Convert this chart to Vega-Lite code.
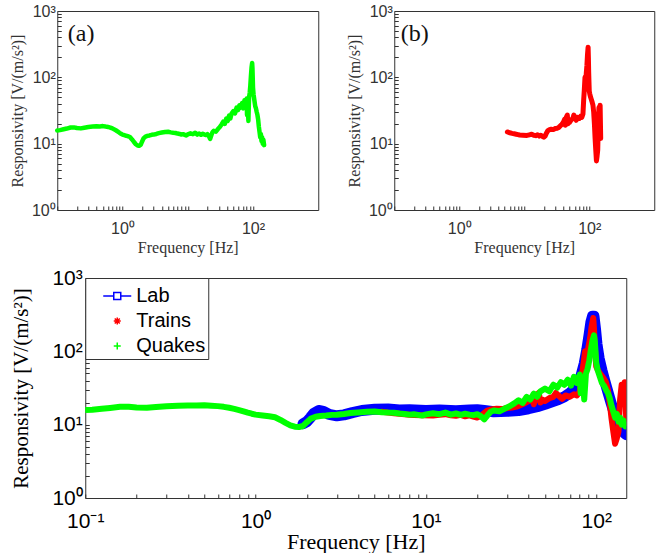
{
  "$schema": "https://vega.github.io/schema/vega-lite/v6.json",
  "padding": {"left": 8, "top": 2, "right": 5, "bottom": 0},
  "background": "white",
  "config": {
    "view": {"stroke": "#333", "strokeWidth": 1},
    "axis": {"domain": false, "grid": false, "tickColor": "#333", "tickSize": -4, "labelColor": "#333", "titleColor": "#333", "labelFont": "Liberation Sans", "titleFont": "Liberation Serif", "titleFontWeight": "normal", "labelOverlap": false, "labelFlush": false}
  },
  "resolve": {"scale": {"color": "independent", "shape": "independent"}, "legend": {"color": "independent", "shape": "independent"}},
  "data": {"values": [
    {"s":"Quakes","f":0.1,"r":15.8},{"s":"Quakes","f":0.11,"r":16.0},{"s":"Quakes","f":0.125,"r":16.5},{"s":"Quakes","f":0.14,"r":16.9},{"s":"Quakes","f":0.16,"r":17.5},{"s":"Quakes","f":0.18,"r":17.6},{"s":"Quakes","f":0.2,"r":17.2},{"s":"Quakes","f":0.23,"r":17.0},{"s":"Quakes","f":0.26,"r":17.4},{"s":"Quakes","f":0.3,"r":17.8},{"s":"Quakes","f":0.35,"r":18.1},{"s":"Quakes","f":0.4,"r":18.3},{"s":"Quakes","f":0.45,"r":18.2},{"s":"Quakes","f":0.5,"r":18.4},{"s":"Quakes","f":0.55,"r":18.1},{"s":"Quakes","f":0.6,"r":17.9},{"s":"Quakes","f":0.65,"r":17.5},{"s":"Quakes","f":0.7,"r":17.0},{"s":"Quakes","f":0.75,"r":16.4},{"s":"Quakes","f":0.8,"r":15.8},{"s":"Quakes","f":0.85,"r":15.2},{"s":"Quakes","f":0.9,"r":14.6},{"s":"Quakes","f":0.95,"r":14.1},{"s":"Quakes","f":1.0,"r":13.7},{"s":"Quakes","f":1.1,"r":13.3},{"s":"Quakes","f":1.2,"r":13.0},{"s":"Quakes","f":1.3,"r":12.6},{"s":"Quakes","f":1.4,"r":11.6},{"s":"Quakes","f":1.5,"r":10.6},{"s":"Quakes","f":1.6,"r":9.8},{"s":"Quakes","f":1.7,"r":9.4},{"s":"Quakes","f":1.8,"r":9.3},{"s":"Quakes","f":1.9,"r":9.6},{"s":"Quakes","f":2.0,"r":10.8},{"s":"Quakes","f":2.1,"r":12.0},{"s":"Quakes","f":2.25,"r":12.8},{"s":"Quakes","f":2.4,"r":13.1},{"s":"Quakes","f":2.6,"r":13.3},{"s":"Quakes","f":2.8,"r":13.6},{"s":"Quakes","f":3.0,"r":13.7},{"s":"Quakes","f":3.3,"r":14.0},{"s":"Quakes","f":3.6,"r":14.4},{"s":"Quakes","f":4.0,"r":14.7},{"s":"Quakes","f":4.5,"r":15.0},{"s":"Quakes","f":5.0,"r":15.1},{"s":"Quakes","f":5.5,"r":14.8},{"s":"Quakes","f":6.0,"r":14.6},{"s":"Quakes","f":6.5,"r":14.5},{"s":"Quakes","f":7.0,"r":14.2},{"s":"Quakes","f":7.5,"r":14.0},{"s":"Quakes","f":8.0,"r":13.7},{"s":"Quakes","f":8.5,"r":13.9},{"s":"Quakes","f":9.0,"r":13.6},{"s":"Quakes","f":9.5,"r":13.3},{"s":"Quakes","f":10,"r":13.8},{"s":"Quakes","f":11,"r":14.3},{"s":"Quakes","f":12,"r":13.9},{"s":"Quakes","f":13,"r":14.6},{"s":"Quakes","f":14,"r":13.7},{"s":"Quakes","f":15,"r":14.2},{"s":"Quakes","f":16,"r":13.6},{"s":"Quakes","f":17,"r":14.1},{"s":"Quakes","f":18,"r":13.7},{"s":"Quakes","f":19,"r":13.5},{"s":"Quakes","f":20,"r":13.9},{"s":"Quakes","f":21,"r":13.1},{"s":"Quakes","f":22,"r":11.8},{"s":"Quakes","f":23,"r":13.4},{"s":"Quakes","f":24,"r":15.0},{"s":"Quakes","f":25,"r":15.6},{"s":"Quakes","f":27,"r":15.2},{"s":"Quakes","f":29,"r":16.6},{"s":"Quakes","f":31,"r":17.8},{"s":"Quakes","f":33,"r":19.5},{"s":"Quakes","f":35,"r":21.5},{"s":"Quakes","f":37,"r":19.8},{"s":"Quakes","f":39,"r":24},{"s":"Quakes","f":41,"r":22},{"s":"Quakes","f":43,"r":26.5},{"s":"Quakes","f":45,"r":24},{"s":"Quakes","f":47,"r":28.5},{"s":"Quakes","f":50,"r":31},{"s":"Quakes","f":53,"r":28.5},{"s":"Quakes","f":56,"r":35},{"s":"Quakes","f":59,"r":32},{"s":"Quakes","f":62,"r":38},{"s":"Quakes","f":65,"r":35},{"s":"Quakes","f":68,"r":41},{"s":"Quakes","f":71,"r":34},{"s":"Quakes","f":74,"r":45},{"s":"Quakes","f":77,"r":37},{"s":"Quakes","f":80,"r":48},{"s":"Quakes","f":81,"r":27},{"s":"Quakes","f":83,"r":44},{"s":"Quakes","f":85,"r":22},{"s":"Quakes","f":87,"r":50},{"s":"Quakes","f":89,"r":58},{"s":"Quakes","f":91,"r":75},{"s":"Quakes","f":93,"r":105},{"s":"Quakes","f":95,"r":140},{"s":"Quakes","f":97,"r":165},{"s":"Quakes","f":98,"r":140},{"s":"Quakes","f":99,"r":100},{"s":"Quakes","f":100,"r":70},{"s":"Quakes","f":102,"r":55},{"s":"Quakes","f":105,"r":45},{"s":"Quakes","f":108,"r":37},{"s":"Quakes","f":111,"r":34},{"s":"Quakes","f":114,"r":30},{"s":"Quakes","f":117,"r":27},{"s":"Quakes","f":120,"r":23},{"s":"Quakes","f":123,"r":18},{"s":"Quakes","f":126,"r":15},{"s":"Quakes","f":129,"r":12.5},{"s":"Quakes","f":132,"r":14},{"s":"Quakes","f":135,"r":11},{"s":"Quakes","f":138,"r":12.5},{"s":"Quakes","f":141,"r":10},{"s":"Quakes","f":144,"r":11.5},{"s":"Quakes","f":148,"r":9.5},
    {"s":"Trains","f":5.5,"r":15.0},{"s":"Trains","f":6,"r":14.6},{"s":"Trains","f":6.5,"r":14.3},{"s":"Trains","f":7,"r":14.1},{"s":"Trains","f":7.5,"r":13.9},{"s":"Trains","f":8,"r":13.7},{"s":"Trains","f":8.5,"r":13.5},{"s":"Trains","f":9.5,"r":13.4},{"s":"Trains","f":11,"r":13.3},{"s":"Trains","f":12,"r":13.6},{"s":"Trains","f":13,"r":13.9},{"s":"Trains","f":14,"r":13.4},{"s":"Trains","f":15,"r":13.2},{"s":"Trains","f":16,"r":13.6},{"s":"Trains","f":17,"r":13.0},{"s":"Trains","f":18,"r":13.4},{"s":"Trains","f":19,"r":12.9},{"s":"Trains","f":20,"r":12.5},{"s":"Trains","f":21,"r":13.1},{"s":"Trains","f":22,"r":14.5},{"s":"Trains","f":23,"r":15.6},{"s":"Trains","f":24,"r":16.1},{"s":"Trains","f":26,"r":16.5},{"s":"Trains","f":28,"r":16.3},{"s":"Trains","f":30,"r":16.9},{"s":"Trains","f":32,"r":17.1},{"s":"Trains","f":34,"r":17.6},{"s":"Trains","f":36,"r":18.6},{"s":"Trains","f":38,"r":19.6},{"s":"Trains","f":40,"r":21},{"s":"Trains","f":42,"r":23.5},{"s":"Trains","f":43,"r":19},{"s":"Trains","f":44,"r":24.5},{"s":"Trains","f":46,"r":27},{"s":"Trains","f":47,"r":20},{"s":"Trains","f":48,"r":22},{"s":"Trains","f":50,"r":21},{"s":"Trains","f":53,"r":23},{"s":"Trains","f":56,"r":24},{"s":"Trains","f":58,"r":27},{"s":"Trains","f":60,"r":25},{"s":"Trains","f":63,"r":22.5},{"s":"Trains","f":66,"r":25},{"s":"Trains","f":70,"r":24},{"s":"Trains","f":74,"r":26},{"s":"Trains","f":77,"r":25},{"s":"Trains","f":80,"r":28},{"s":"Trains","f":82,"r":45},{"s":"Trains","f":84,"r":65},{"s":"Trains","f":86,"r":100},{"s":"Trains","f":88,"r":78},{"s":"Trains","f":90,"r":115},{"s":"Trains","f":92,"r":150},{"s":"Trains","f":94,"r":220},{"s":"Trains","f":96,"r":285},{"s":"Trains","f":97,"r":200},{"s":"Trains","f":98,"r":120},{"s":"Trains","f":99,"r":85},{"s":"Trains","f":100,"r":62},{"s":"Trains","f":102,"r":56},{"s":"Trains","f":105,"r":50},{"s":"Trains","f":108,"r":46},{"s":"Trains","f":111,"r":42},{"s":"Trains","f":114,"r":38},{"s":"Trains","f":117,"r":30},{"s":"Trains","f":120,"r":20},{"s":"Trains","f":123,"r":12},{"s":"Trains","f":126,"r":8},{"s":"Trains","f":129,"r":5.5},{"s":"Trains","f":132,"r":6.5},{"s":"Trains","f":135,"r":8},{"s":"Trains","f":138,"r":22},{"s":"Trains","f":141,"r":35},{"s":"Trains","f":144,"r":24},{"s":"Trains","f":147,"r":38},{"s":"Trains","f":150,"r":12},
    {"s":"Lab","f":1.9,"r":10.3},{"s":"Lab","f":2.0,"r":11},{"s":"Lab","f":2.1,"r":12.5},{"s":"Lab","f":2.2,"r":14.3},{"s":"Lab","f":2.35,"r":15.6},{"s":"Lab","f":2.5,"r":15.2},{"s":"Lab","f":2.7,"r":13.8},{"s":"Lab","f":3.0,"r":13.2},{"s":"Lab","f":3.3,"r":13.6},{"s":"Lab","f":3.7,"r":14.6},{"s":"Lab","f":4.2,"r":15.6},{"s":"Lab","f":5,"r":16.2},{"s":"Lab","f":6,"r":16.3},{"s":"Lab","f":7,"r":15.9},{"s":"Lab","f":8,"r":16.0},{"s":"Lab","f":10,"r":15.6},{"s":"Lab","f":12,"r":15.8},{"s":"Lab","f":15,"r":15.5},{"s":"Lab","f":18,"r":15.8},{"s":"Lab","f":20,"r":16.0},{"s":"Lab","f":22,"r":15.6},{"s":"Lab","f":25,"r":15.0},{"s":"Lab","f":30,"r":15.2},{"s":"Lab","f":35,"r":15.6},{"s":"Lab","f":40,"r":16.5},{"s":"Lab","f":45,"r":17.6},{"s":"Lab","f":50,"r":19},{"s":"Lab","f":55,"r":20.5},{"s":"Lab","f":60,"r":22},{"s":"Lab","f":65,"r":24},{"s":"Lab","f":70,"r":27},{"s":"Lab","f":75,"r":31},{"s":"Lab","f":80,"r":40},{"s":"Lab","f":85,"r":68},{"s":"Lab","f":88,"r":105},{"s":"Lab","f":91,"r":175},{"s":"Lab","f":93,"r":250},{"s":"Lab","f":95,"r":300},{"s":"Lab","f":97,"r":300},{"s":"Lab","f":99,"r":200},{"s":"Lab","f":101,"r":125},{"s":"Lab","f":104,"r":80},{"s":"Lab","f":108,"r":55},{"s":"Lab","f":112,"r":40},{"s":"Lab","f":117,"r":28},{"s":"Lab","f":122,"r":20},{"s":"Lab","f":128,"r":14},{"s":"Lab","f":134,"r":11},{"s":"Lab","f":140,"r":9},{"s":"Lab","f":147,"r":7.6},{"s":"Lab","f":150,"r":7.3}
  ]},
  "spacing": 10,
  "center": true,
  "vconcat": [
    {
      "spacing": 26,
      "hconcat": [
        {
          "width": 261, "height": 199,
          "layer": [
            {
              "transform": [{"filter": "datum.s == 'Quakes'"}],
              "mark": {"type": "line", "color": "#00ff00", "strokeWidth": 4.5, "strokeJoin": "round", "strokeCap": "round"},
              "encoding": {
                "x": {"field": "f", "type": "quantitative", "scale": {"type": "log", "domain": [0.1, 150]},
                  "axis": {"title": "Frequency [Hz]", "values": [0.1,0.2,0.3,0.4,0.5,0.6,0.7,0.8,0.9,1,2,3,4,5,6,7,8,9,10,20,30,40,50,60,70,80,90,100],
                    "labelExpr": "datum.value == 1 ? '10⁰' : datum.value == 100 ? '10²' : ''", "labelFontSize": 16, "titleFontSize": 16, "labelPadding": 14, "titlePadding": 3}},
                "y": {"field": "r", "type": "quantitative", "scale": {"type": "log", "domain": [1, 1000]},
                  "axis": {"title": "Responsivity [V/(m/s²)]", "values": [1,2,3,4,5,6,7,8,9,10,20,30,40,50,60,70,80,90,100,200,300,400,500,600,700,800,900,1000],
                    "labelExpr": "datum.value == 1 ? '10⁰' : datum.value == 10 ? '10¹' : datum.value == 100 ? '10²' : datum.value == 1000 ? '10³' : ''", "labelFontSize": 16, "titleFontSize": 16, "labelPadding": 6, "titlePadding": 6}}
              }
            },
            {
              "data": {"values": [{"label": "(a)"}]},
              "mark": {"type": "text", "font": "Liberation Serif", "fontSize": 24, "align": "left", "baseline": "middle", "color": "#111"},
              "encoding": {
                "x": {"datum": 0.145, "type": "quantitative", "title": "Frequency [Hz]"},
                "y": {"datum": 450, "type": "quantitative", "title": "Responsivity [V/(m/s²)]"},
                "text": {"field": "label"}
              }
            }
          ]
        },
        {
          "width": 260, "height": 199,
          "layer": [
            {
              "transform": [{"filter": "datum.s == 'Trains'"}],
              "mark": {"type": "line", "color": "#ff0000", "strokeWidth": 5, "strokeJoin": "round", "strokeCap": "round"},
              "encoding": {
                "x": {"field": "f", "type": "quantitative", "scale": {"type": "log", "domain": [0.1, 150]},
                  "axis": {"title": "Frequency [Hz]", "values": [0.1,0.2,0.3,0.4,0.5,0.6,0.7,0.8,0.9,1,2,3,4,5,6,7,8,9,10,20,30,40,50,60,70,80,90,100],
                    "labelExpr": "datum.value == 1 ? '10⁰' : datum.value == 100 ? '10²' : ''", "labelFontSize": 16, "titleFontSize": 16, "labelPadding": 14, "titlePadding": 3}},
                "y": {"field": "r", "type": "quantitative", "scale": {"type": "log", "domain": [1, 1000]},
                  "axis": {"title": "Responsivity [V/(m/s²)]", "values": [1,2,3,4,5,6,7,8,9,10,20,30,40,50,60,70,80,90,100,200,300,400,500,600,700,800,900,1000],
                    "labelExpr": "datum.value == 1 ? '10⁰' : datum.value == 10 ? '10¹' : datum.value == 100 ? '10²' : datum.value == 1000 ? '10³' : ''", "labelFontSize": 16, "titleFontSize": 16, "labelPadding": 6, "titlePadding": 6}}
              }
            },
            {
              "data": {"values": [{"label": "(b)"}]},
              "mark": {"type": "text", "font": "Liberation Serif", "fontSize": 24, "align": "left", "baseline": "middle", "color": "#111"},
              "encoding": {
                "x": {"datum": 0.126, "type": "quantitative", "title": "Frequency [Hz]"},
                "y": {"datum": 450, "type": "quantitative", "title": "Responsivity [V/(m/s²)]"},
                "text": {"field": "label"}
              }
            }
          ]
        }
      ]
    },
    {
      "width": 541, "height": 220,
      "encoding": {
        "x": {"field": "f", "type": "quantitative", "scale": {"type": "log", "domain": [0.1, 150]},
          "axis": {"title": "Frequency [Hz]", "values": [0.1,0.2,0.3,0.4,0.5,0.6,0.7,0.8,0.9,1,2,3,4,5,6,7,8,9,10,20,30,40,50,60,70,80,90,100],
            "labelExpr": "datum.value == 0.1 ? '10⁻¹' : datum.value == 1 ? '10⁰' : datum.value == 10 ? '10¹' : datum.value == 100 ? '10²' : ''", "labelFontSize": 21, "titleFontSize": 22, "labelPadding": 16, "titlePadding": 0, "labelColor": "#000", "titleColor": "#000"}},
        "y": {"field": "r", "type": "quantitative", "scale": {"type": "log", "domain": [1, 1000]},
          "axis": {"title": "Responsivity [V/(m/s²)]", "values": [1,2,3,4,5,6,7,8,9,10,20,30,40,50,60,70,80,90,100,200,300,400,500,600,700,800,900,1000],
            "labelExpr": "datum.value == 1 ? '10⁰' : datum.value == 10 ? '10¹' : datum.value == 100 ? '10²' : datum.value == 1000 ? '10³' : ''", "labelFontSize": 21, "titleFontSize": 21, "labelPadding": 7, "titlePadding": 20, "labelColor": "#000", "titleColor": "#000"}}
      },
      "layer": [
        {
          "mark": {"type": "point", "filled": false, "opacity": 0, "size": 20, "strokeWidth": 1, "clip": true},
          "encoding": {
            "color": {"field": "s", "type": "nominal", "scale": {"domain": ["Lab", "Trains", "Quakes"], "range": ["#0000ff", "#ff0000", "#00ff00"]},
              "legend": {"title": null, "orient": "top-left", "offset": 0, "padding": 3, "symbolOffset": 14, "symbolSize": 784, "symbolStrokeWidth": 1.5, "symbolOpacity": 1, "labelFont": "Liberation Sans", "labelFontSize": 20, "labelColor": "#000", "labelOffset": 4, "rowPadding": 0, "strokeColor": "#333", "fillColor": "white", "cornerRadius": 0}},
            "shape": {"field": "s", "type": "nominal", "scale": {"domain": ["Lab", "Trains", "Quakes"], "range": ["M-1,0H-0.25M0.25,0H1M-0.25,-0.25H0.25V0.25H-0.25Z", "M-0.25,0H0.25M0,-0.25V0.25M-0.18,-0.18L0.18,0.18M-0.18,0.18L0.18,-0.18", "M-0.25,0H0.25M0,-0.25V0.25"]},
              "legend": {"title": null, "orient": "top-left", "offset": 0, "padding": 3, "symbolOffset": 14, "symbolSize": 784, "symbolStrokeWidth": 1.5, "symbolOpacity": 1, "labelFont": "Liberation Sans", "labelFontSize": 20, "labelColor": "#000", "labelOffset": 4, "rowPadding": 0, "strokeColor": "#333", "fillColor": "white", "cornerRadius": 0}}
          }
        },
        {
          "transform": [{"filter": "datum.s == 'Lab'"}],
          "mark": {"type": "line", "color": "#0000ff", "strokeWidth": 11, "strokeJoin": "round", "strokeCap": "round", "clip": true}
        },
        {
          "transform": [{"filter": "datum.s == 'Trains'"}],
          "mark": {"type": "line", "color": "#ff0000", "strokeWidth": 6, "strokeJoin": "round", "strokeCap": "round", "clip": true}
        },
        {
          "transform": [{"filter": "datum.s == 'Quakes'"}],
          "mark": {"type": "line", "color": "#00ff00", "strokeWidth": 6, "strokeJoin": "round", "strokeCap": "round", "clip": true}
        },
        {
          "data": {"values": [{"label": "(c)"}]},
          "mark": {"type": "text", "font": "Liberation Serif", "fontSize": 23, "align": "left", "baseline": "middle", "color": "#111"},
          "encoding": {
            "x": {"datum": 0.12, "type": "quantitative", "title": "Frequency [Hz]"},
            "y": {"datum": 1.85, "type": "quantitative", "title": "Responsivity [V/(m/s²)]"},
            "text": {"field": "label"}
          }
        }
      ]
    }
  ]
}
